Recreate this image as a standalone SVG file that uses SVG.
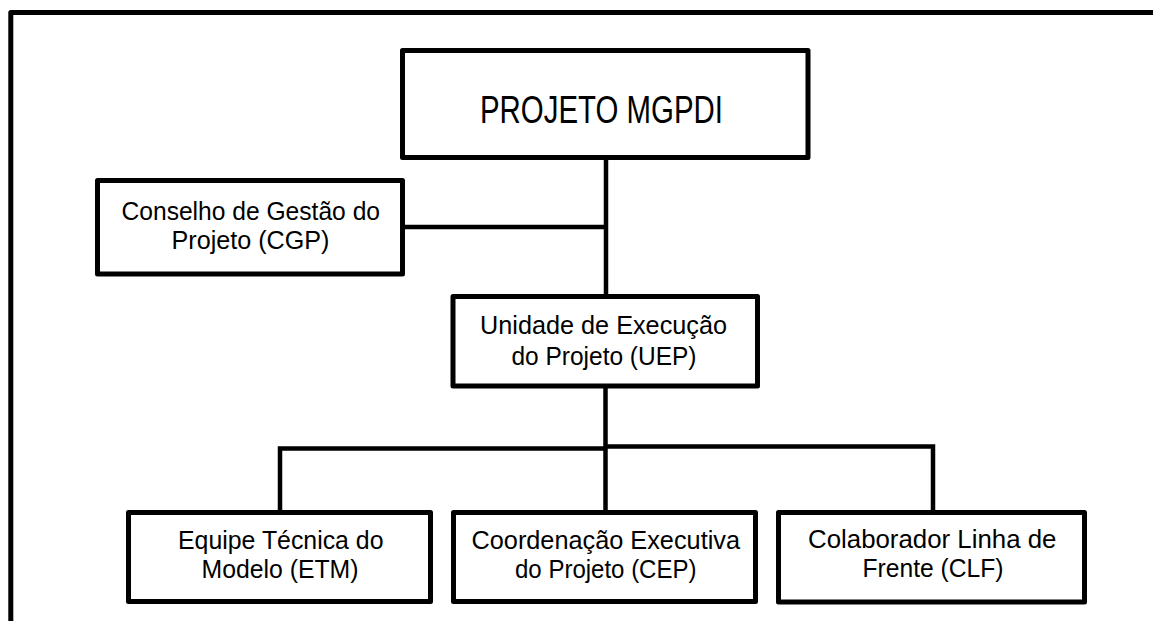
<svg xmlns="http://www.w3.org/2000/svg" width="1153" height="621" viewBox="0 0 1153 621">
<style>
.box{fill:#fff;stroke:#000;stroke-width:5;stroke-linejoin:round}
.ln{fill:none;stroke:#000;stroke-width:4.5;stroke-linejoin:miter}
.t{font-family:"Liberation Sans",Arial,sans-serif;font-size:26.5px;fill:#000}
.big{font-size:39px}
</style>
<rect width="1153" height="621" fill="#fff"/>
<path d="M10.8 630 V12.5 H1160" fill="none" stroke="#000" stroke-width="5" stroke-linejoin="round"/>
<g id="connectors">
<path class="ln" d="M606 157.5 V296.5"/>
<path class="ln" d="M402.5 227 H606"/>
<path class="ln" d="M605.5 386 V512.5"/>
<path class="ln" d="M280 512.5 V448.5 H606"/>
<path class="ln" d="M606 446.5 H933 V512.5"/>
</g>
<g id="projeto">
<rect class="box" x="402.5" y="50.5" width="405.5" height="107"/>
<text class="t big" x="480" y="123.3" textLength="243" lengthAdjust="spacingAndGlyphs">PROJETO MGPDI</text>
</g>
<g id="cgp">
<rect class="box" x="97.5" y="180.5" width="305" height="93.5"/>
<text class="t" x="121.5" y="219.5" textLength="258.5" lengthAdjust="spacingAndGlyphs">Conselho de Gestão do</text>
<text class="t" x="171.5" y="248.5" textLength="158" lengthAdjust="spacingAndGlyphs">Projeto (CGP)</text>
</g>
<g id="uep">
<rect class="box" x="453" y="296.5" width="304.5" height="89.5"/>
<text class="t" x="480" y="333.5" textLength="247" lengthAdjust="spacingAndGlyphs">Unidade de Execução</text>
<text class="t" x="511.5" y="364.5" textLength="185" lengthAdjust="spacingAndGlyphs">do Projeto (UEP)</text>
</g>
<g id="etm">
<rect class="box" x="128.5" y="512.5" width="302" height="89"/>
<text class="t" x="178" y="548.5" textLength="205.5" lengthAdjust="spacingAndGlyphs">Equipe Técnica do</text>
<text class="t" x="201.5" y="577.5" textLength="157" lengthAdjust="spacingAndGlyphs">Modelo (ETM)</text>
</g>
<g id="cep">
<rect class="box" x="453.5" y="512.5" width="302" height="89"/>
<text class="t" x="471.5" y="548.5" textLength="268.5" lengthAdjust="spacingAndGlyphs">Coordenação Executiva</text>
<text class="t" x="515" y="577.5" textLength="181.5" lengthAdjust="spacingAndGlyphs">do Projeto (CEP)</text>
</g>
<g id="clf">
<rect class="box" x="778.5" y="512.5" width="306" height="89.5"/>
<text class="t" x="808" y="548" textLength="248.5" lengthAdjust="spacingAndGlyphs">Colaborador Linha de</text>
<text class="t" x="862.5" y="577" textLength="141" lengthAdjust="spacingAndGlyphs">Frente (CLF)</text>
</g>
</svg>
